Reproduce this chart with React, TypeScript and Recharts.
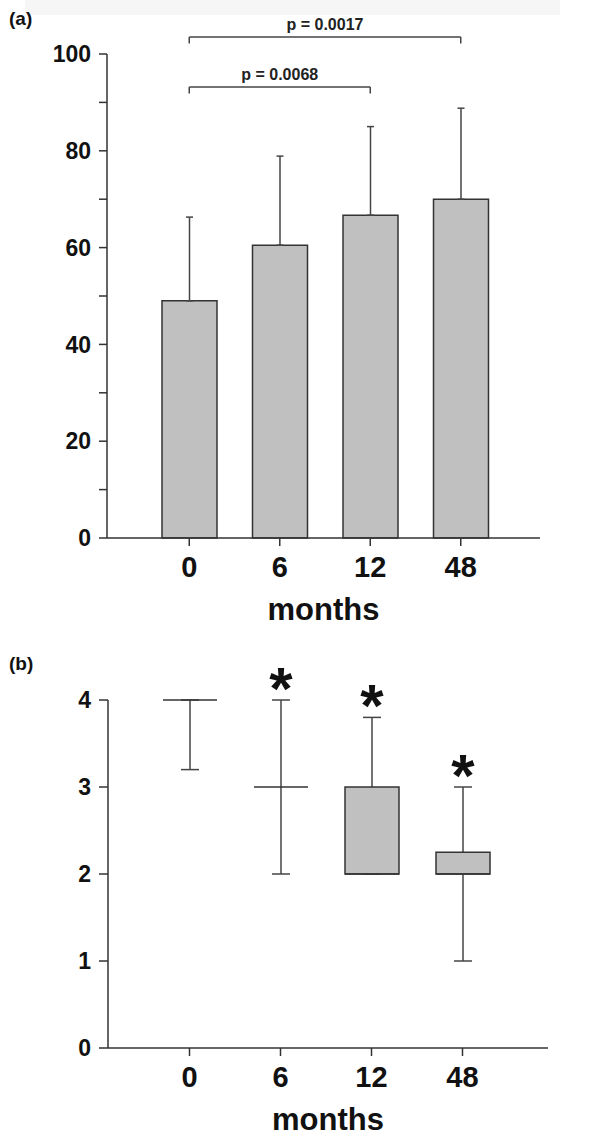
import React from "react"
import {
  Bar,
  ComposedChart,
  ErrorBar,
  ReferenceLine,
  XAxis,
  YAxis,
} from "recharts"

const FONT = "Arial, 'Liberation Sans', sans-serif"

// panel (a): mean +/- SD
const months = ["0", "6", "12", "48"]
const meanScores = [49, 60.5, 66.7, 70]
const sdScores = [17.3, 18.4, 18.3, 18.8]
const scoreTicks = [0, 10, 20, 30, 40, 50, 60, 70, 80, 90, 100]

// p-value brackets: [from, to, level, label]
const brackets: [string, string, number, string][] = [
  ["0", "48", 103.5, "p = 0.0017"],
  ["0", "12", 93.2, "p = 0.0068"],
]

// panel (b): box plot values
const minVals = [3.2, 2, 2, 1]
const q1Vals = [4, 3, 2, 2]
const medVals = [4, 3, 2, 2]
const q3Vals = [4, 3, 3, 2.25]
const maxVals = [4, 4, 3.8, 3]
const significant = [false, true, true, true]
const gradeTicks = [0, 1, 2, 3, 4]

const scoreData = months.map((m, i) => ({
  month: m,
  mean: meanScores[i],
  err: [0, sdScores[i]],
}))

const gradeData = months.map((m, i) => ({
  month: m,
  min: minVals[i],
  q1: q1Vals[i],
  med: medVals[i],
  q3: q3Vals[i],
  max: maxVals[i],
  sig: significant[i],
}))

const axisStyle = { stroke: "#333", strokeWidth: 1.5 }
const yTick = { fontFamily: FONT, fontSize: 23, fontWeight: 700, fill: "#111" }
const xTick = { fontFamily: FONT, fontSize: 29, fontWeight: 700, fill: "#111" }
const monthsStyle = { fontFamily: FONT, fontSize: 31, fontWeight: 700, fill: "#111" }

function BoxShape(props: any) {
  const { x, y, width, height, payload } = props
  if (x == null || y == null) return null
  const top = Math.min(y, y + height)
  const bottom = Math.max(y, y + height)
  const span = payload.max - payload.min
  const py = (v: number) =>
    bottom - ((v - payload.min) / span) * (bottom - top)
  const cx = x + width / 2
  const cap = 9
  const boxTop = py(payload.q3)
  const boxBottom = py(payload.q1)
  return (
    <g>
      <line x1={cx} x2={cx} y1={top} y2={bottom} stroke="#444" strokeWidth={1.5} />
      <line x1={cx - cap} x2={cx + cap} y1={top} y2={top} stroke="#444" strokeWidth={1.5} />
      <line x1={cx - cap} x2={cx + cap} y1={bottom} y2={bottom} stroke="#444" strokeWidth={1.5} />
      {boxBottom - boxTop > 0.5 && (
        <rect
          x={x}
          y={boxTop}
          width={width}
          height={boxBottom - boxTop}
          fill="#c0c0c0"
          stroke="#333"
          strokeWidth={1.5}
        />
      )}
      <line
        x1={x}
        x2={x + width}
        y1={py(payload.med)}
        y2={py(payload.med)}
        stroke="#333"
        strokeWidth={1.5}
      />
      {payload.sig && (
        <text
          x={cx}
          y={top + 9}
          textAnchor="middle"
          fontFamily={FONT}
          fontSize={60}
          fontWeight={700}
          fill="#111"
        >
          *
        </text>
      )}
    </g>
  )
}

const panelLabel: React.CSSProperties = {
  position: "absolute",
  left: 9,
  fontFamily: FONT,
  fontSize: 19,
  fontWeight: 700,
  color: "#111",
  lineHeight: "22px",
}

export default function App() {
  return (
    <div
      style={{
        position: "absolute",
        left: 0,
        top: 0,
        width: 600,
        height: 1137,
        background: "#fff",
        overflow: "hidden",
      }}
    >
      <div
        style={{
          position: "absolute",
          left: 25,
          top: 0,
          width: 535,
          height: 15,
          background: "#f6f6f6",
        }}
      />
      <div style={{ ...panelLabel, top: 8 }}>(a)</div>
      <div style={{ ...panelLabel, top: 653 }}>(b)</div>

      <div style={{ position: "absolute", left: 0, top: 0 }}>
        <ComposedChart
          width={600}
          height={640}
          data={scoreData}
          margin={{ top: 54, right: 60, bottom: 0, left: 0 }}
        >
          <XAxis
            dataKey="month"
            height={102}
            padding={{ left: 37, right: 34 }}
            tick={xTick}
            tickSize={8}
            tickMargin={10}
            axisLine={axisStyle}
            tickLine={axisStyle}
            label={{
              value: "months",
              position: "insideBottom",
              offset: 20,
              style: monthsStyle,
            }}
          />
          <YAxis
            width={107}
            domain={[0, 100]}
            ticks={scoreTicks}
            interval={0}
            tickFormatter={(v: number) => (v % 20 === 0 ? String(v) : "")}
            tick={yTick}
            tickSize={8}
            tickMargin={8}
            axisLine={axisStyle}
            tickLine={axisStyle}
          />
          <Bar
            dataKey="mean"
            barSize={55}
            fill="#c0c0c0"
            stroke="#333"
            strokeWidth={1.5}
            isAnimationActive={false}
          >
            <ErrorBar
              dataKey="err"
              direction="y"
              width={3.5}
              stroke="#444"
              strokeWidth={1.5}
              isAnimationActive={false}
            />
          </Bar>
          {brackets.map(([from, to, level, text]) => (
            <React.Fragment key={text}>
              <ReferenceLine
                segment={[
                  { x: from, y: level },
                  { x: to, y: level },
                ]}
                ifOverflow="visible"
                stroke="#444"
                strokeWidth={1.5}
                label={{
                  value: text,
                  position: "top",
                  offset: 7,
                  style: { fontFamily: FONT, fontSize: 16, fontWeight: 700, fill: "#222" },
                }}
              />
              <ReferenceLine
                segment={[
                  { x: from, y: level },
                  { x: from, y: level - 1.35 },
                ]}
                ifOverflow="visible"
                stroke="#444"
                strokeWidth={1.5}
              />
              <ReferenceLine
                segment={[
                  { x: to, y: level },
                  { x: to, y: level - 1.35 },
                ]}
                ifOverflow="visible"
                stroke="#444"
                strokeWidth={1.5}
              />
            </React.Fragment>
          ))}
        </ComposedChart>
      </div>

      <div style={{ position: "absolute", left: 0, top: 640 }}>
        <ComposedChart
          width={600}
          height={497}
          data={gradeData}
          margin={{ top: 60, right: 52, bottom: 0, left: 0 }}
        >
          <XAxis
            dataKey="month"
            height={89}
            padding={{ left: 36, right: 40 }}
            tick={xTick}
            tickSize={8}
            tickMargin={10}
            axisLine={axisStyle}
            tickLine={axisStyle}
            label={{
              value: "months",
              position: "insideBottom",
              offset: 7,
              style: monthsStyle,
            }}
          />
          <YAxis
            width={108}
            domain={[0, 4]}
            ticks={gradeTicks}
            interval={0}
            tick={yTick}
            tickSize={9}
            tickMargin={8}
            axisLine={axisStyle}
            tickLine={axisStyle}
          />
          <Bar
            dataKey={(d: any) => [d.min, d.max]}
            barSize={54}
            fill="none"
            shape={BoxShape}
            isAnimationActive={false}
          />
        </ComposedChart>
      </div>
    </div>
  )
}
